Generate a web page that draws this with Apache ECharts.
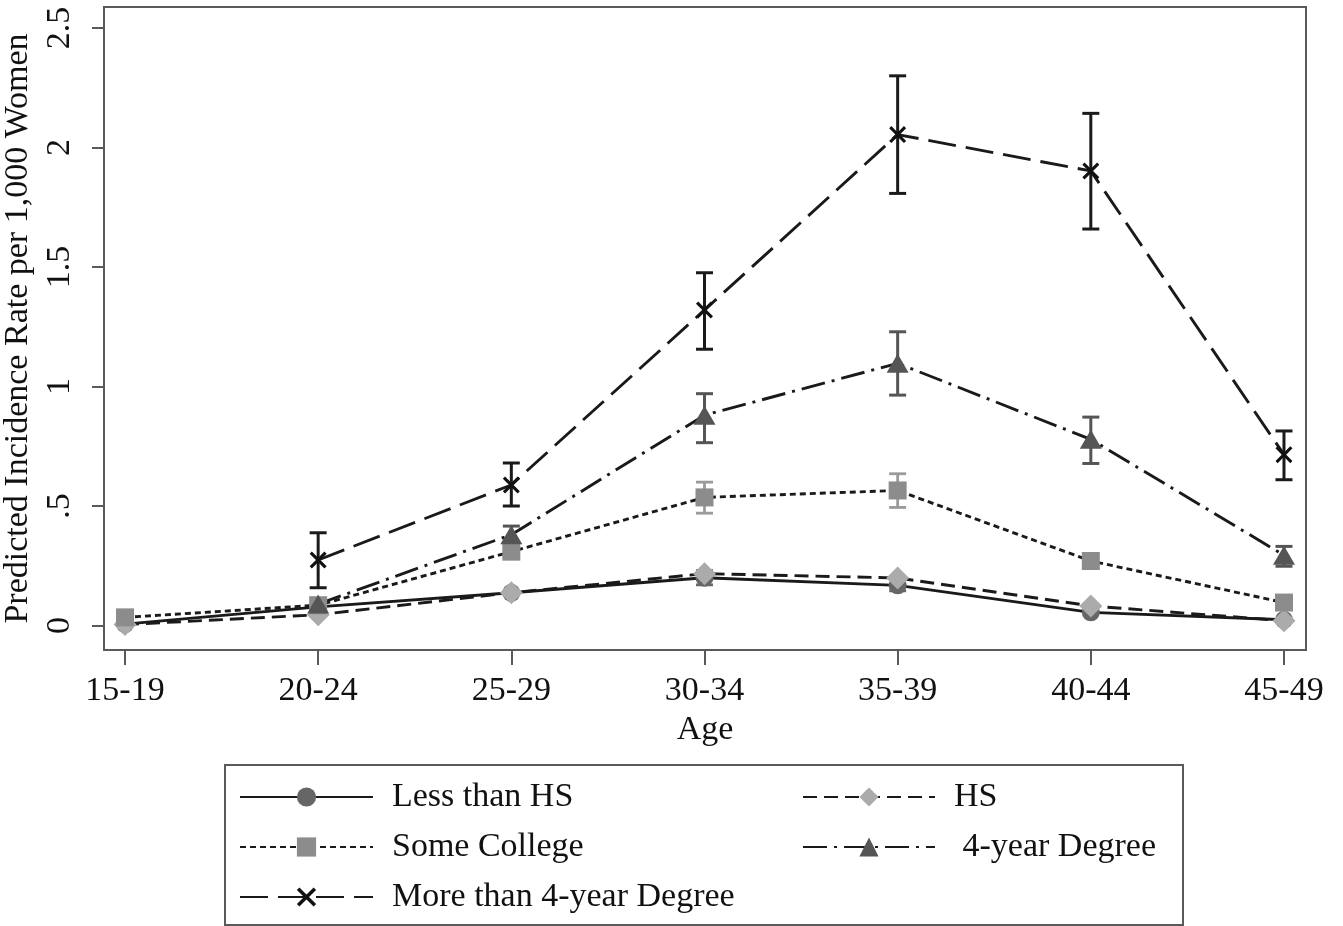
<!DOCTYPE html>
<html>
<head>
<meta charset="utf-8">
<script src="https://cdn.jsdelivr.net/npm/echarts@6/dist/echarts.min.js"></script>
<style>
html,body{margin:0;padding:0;background:#fff;}
#chart{width:1343px;height:926px;}
</style>
</head>
<body>
<div id="chart"></div>
<script>
// ---- data ----
const categories = ['15-19','20-24','25-29','30-34','35-39','40-44','45-49'];
const yTickValues = [0, 0.5, 1, 1.5, 2, 2.5];
const yTickLabels = ['0', '.5', '1', '1.5', '2', '2.5'];

const lessHS      = [0.006, 0.078, 0.137, 0.200, 0.168, 0.055, 0.024];
const hs          = [0.004, 0.045, 0.137, 0.217, 0.199, 0.082, 0.020];
const someCollege = [0.034, 0.085, 0.309, 0.536, 0.565, 0.270, 0.096];
const fourYear    = [null, 0.090, 0.380, 0.880, 1.097, 0.779, 0.294];
const moreFour    = [null, 0.274, 0.588, 1.320, 2.054, 1.902, 0.715];

const lessHSLow   = [null, null, null, 0.170, 0.145, null, null];
const lessHSHigh  = [null, null, null, 0.230, 0.192, null, null];
const someLow     = [null, null, null, 0.470, 0.494, null, null];
const someHigh    = [null, null, null, 0.600, 0.635, null, null];
const fourLow     = [null, null, 0.345, 0.765, 0.964, 0.678, 0.248];
const fourHigh    = [null, null, 0.416, 0.970, 1.229, 0.872, 0.331];
const moreLow     = [null, 0.158, 0.500, 1.156, 1.808, 1.659, 0.610];
const moreHigh    = [null, 0.388, 0.680, 1.476, 2.300, 2.143, 0.814];

const FONT = "'Liberation Serif', 'Times New Roman', serif";
const TXT = '#111';
const FRAME = '#5a5a5a';

function pairs(arr){ return arr.map((v,i)=> v==null ? [i, null] : [i, v]); }
function bars(low, high){
  const out = [];
  low.forEach((l,i)=>{ if(l!=null && high[i]!=null) out.push([i, l, high[i]]); });
  return out;
}
function errSeries(low, high, color, width){
  return {
    type: 'custom',
    z: 1,
    silent: true,
    data: bars(low, high),
    renderItem: function(params, api){
      const x = api.value(0);
      const lo = api.coord([x, api.value(1)]);
      const hi = api.coord([x, api.value(2)]);
      const cw = 8.5;
      const st = {stroke: color, lineWidth: width};
      return {
        type: 'group',
        children: [
          {type:'line', shape:{x1:lo[0], y1:lo[1], x2:hi[0], y2:hi[1]}, style: st},
          {type:'line', shape:{x1:hi[0]-cw, y1:hi[1], x2:hi[0]+cw, y2:hi[1]}, style: st},
          {type:'line', shape:{x1:lo[0]-cw, y1:lo[1], x2:lo[0]+cw, y2:lo[1]}, style: st}
        ]
      };
    }
  };
}

const X_PATH = 'path://M0,1.3 L1.3,0 L5,3.7 L8.7,0 L10,1.3 L6.3,5 L10,8.7 L8.7,10 L5,6.3 L1.3,10 L0,8.7 L3.7,5 Z';
const LINE_COLOR = '#1a1a1a';

function lineSeries(name, data, dash, symbol, size, color){
  return {
    name: name,
    type: 'line',
    z: 3,
    data: pairs(data),
    symbol: symbol,
    symbolSize: size,
    showSymbol: true,
    connectNulls: false,
    itemStyle: {color: color},
    lineStyle: {color: LINE_COLOR, width: 2.9, type: dash},
    emphasis: {disabled: true},
    animation: false
  };
}

const chart = echarts.init(document.getElementById('chart'), null, {renderer: 'canvas'});

const legendCommon = {
  orient: 'vertical',
  itemWidth: 133,
  itemHeight: 24,
  itemGap: 16,
  padding: 0,
  selectedMode: false,
  textStyle: {fontFamily: FONT, fontSize: 34, color: TXT, lineHeight: 34, padding: [0,0,0,14]},
  formatter: function(name){ return name === '4-year Degree' ? ' ' + name : name; }
};

const option = {
  backgroundColor: '#fff',
  animation: false,
  grid: {left: 104, right: 37, top: 7, bottom: 276, show: true, borderColor: FRAME, borderWidth: 2, containLabel: false, outerBoundsMode: 'none'},
  xAxis: {
    type: 'value',
    min: -0.1087,
    max: 6.114,
    name: 'Age',
    nameLocation: 'middle',
    nameGap: 60,
    nameTextStyle: {fontFamily: FONT, fontSize: 34, color: TXT},
    axisLine: {show: true, onZero: false, lineStyle: {color: FRAME, width: 2}},
    axisTick: {show: true, length: 15, customValues: [0,1,2,3,4,5,6], lineStyle: {color: FRAME, width: 2}},
    axisLabel: {
      customValues: [0,1,2,3,4,5,6],
      formatter: function(v){ return categories[Math.round(v)]; },
      fontFamily: FONT, fontSize: 34, color: TXT, margin: 24
    },
    splitLine: {show: false}
  },
  yAxis: {
    type: 'value',
    min: -0.1025,
    max: 2.588,
    name: 'Predicted Incidence Rate per 1,000 Women',
    nameLocation: 'middle',
    nameRotate: 90,
    nameGap: 64,
    nameTextStyle: {fontFamily: FONT, fontSize: 34, color: TXT},
    axisLine: {show: true, onZero: false, lineStyle: {color: FRAME, width: 2}},
    axisTick: {show: true, length: 12, customValues: yTickValues, lineStyle: {color: FRAME, width: 2}},
    axisLabel: {
      customValues: yTickValues,
      rotate: 90,
      formatter: function(v){ const i = yTickValues.indexOf(v); return i >= 0 ? yTickLabels[i] : ''; },
      fontFamily: FONT, fontSize: 34, color: TXT, margin: 27
    },
    splitLine: {show: false}
  },
  legend: [
    Object.assign({}, legendCommon, {left: 239, top: 780, data: ['Less than HS', 'Some College', 'More than 4-year Degree']}),
    Object.assign({}, legendCommon, {left: 802, top: 780, itemWidth: 132, data: ['HS', '4-year Degree']})
  ],
  graphic: [{
    type: 'rect',
    shape: {x: 225, y: 765, width: 958, height: 160},
    style: {fill: 'none', stroke: FRAME, lineWidth: 2},
    z: 0
  }],
  series: [
    errSeries(lessHSLow, lessHSHigh, '#6a6a6a', 2.8),
    errSeries(someLow, someHigh, '#9a9a9a', 2.8),
    errSeries(fourLow, fourHigh, '#555555', 3),
    errSeries(moreLow, moreHigh, '#1a1a1a', 3),
    lineSeries('Less than HS', lessHS, 'solid', 'circle', 18, '#666666'),
    lineSeries('HS', hs, [14, 7], 'diamond', 23, '#ababab'),
    lineSeries('Some College', someCollege, [6, 4], 'rect', 18, '#8c8c8c'),
    lineSeries('4-year Degree', fourYear, [24, 7, 3, 7], 'triangle', [22, 19], '#555555'),
    lineSeries('More than 4-year Degree', moreFour, [28, 10], X_PATH, 17, '#111111')
  ]
};
chart.setOption(option);
</script>
</body>
</html>
